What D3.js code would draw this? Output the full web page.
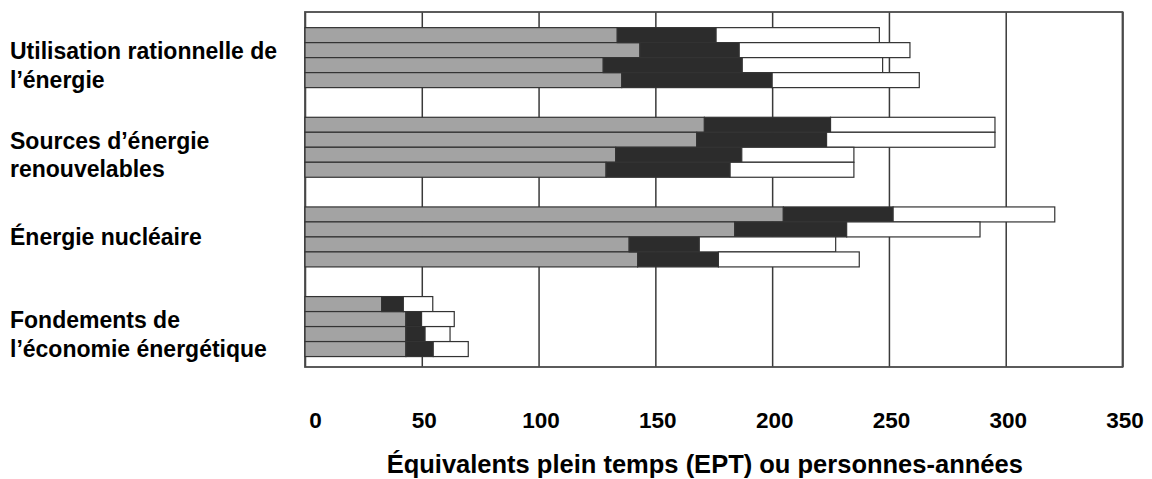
<!DOCTYPE html>
<html>
<head>
<meta charset="utf-8">
<script src="https://cdn.jsdelivr.net/npm/d3@7"></script>
<style>
  html, body { margin: 0; padding: 0; background: #fff; }
  svg { display: block; }
</style>
</head>
<body>
<svg id="chart" width="1152" height="479"></svg>
<script>
// ---- Data ----
const categories = [
  "Utilisation rationnelle de l’énergie",
  "Sources d’énergie renouvelables",
  "Énergie nucléaire",
  "Fondements de l’économie énergétique"
];
const categoryLines = [
  ["Utilisation rationnelle de", "l’énergie"],
  ["Sources d’énergie", "renouvelables"],
  ["Énergie nucléaire"],
  ["Fondements de", "l’économie énergétique"]
];
const subBars = ["1", "2", "3", "4"];
const seriesKeys = ["gray", "black", "white"];
// segment lengths (EPT), one row per category, one entry per sub-bar
const grayValues = [
  [133.7, 143.4, 127.7, 135.6],
  [171.0, 167.7, 133.0, 128.9],
  [204.8, 184.0, 138.8, 142.4],
  [32.8, 43.2, 43.2, 43.2]
];
const blackValues = [
  [42.3, 42.5, 59.5, 64.4],
  [54.0, 55.6, 54.0, 53.1],
  [47.0, 47.9, 30.0, 34.6],
  [9.3, 6.7, 8.2, 11.7]
];
const whiteValues = [
  [69.9, 73.1, 60.1, 63.0],
  [70.4, 72.1, 48.0, 53.0],
  [69.2, 57.1, 58.4, 60.3],
  [12.6, 14.0, 10.7, 15.0]
];
const xTicks = [0, 50, 100, 150, 200, 250, 300, 350];
const xTitle = "Équivalents plein temps (EPT) ou personnes-années";

// ---- Layout ----
const svg = d3.select("#chart");
const plot = { left: 305, right: 1122.5, top: 12, bottom: 367 };
const fillColors = { gray: "#a3a3a3", black: "#2c2c2c", white: "#ffffff" };
const fontFamily = "'Liberation Sans', Arial, Helvetica, sans-serif";

const x = d3.scaleLinear().domain([0, 350]).range([plot.left, plot.right]);
const y = d3.scaleBand().domain(categories).range([12.8, 371.4])
  .paddingInner(0.331).paddingOuter(0.1655);
const ySub = d3.scaleBand().domain(subBars).range([0, y.bandwidth()]).padding(0);

// rows of stacked data
const rows = [];
categories.forEach((c, ci) => {
  subBars.forEach((s, si) => {
    rows.push({ cat: c, sub: s, gray: grayValues[ci][si], black: blackValues[ci][si], white: whiteValues[ci][si] });
  });
});
const stacked = d3.stack().keys(seriesKeys)(rows);

// gridlines
svg.append("g")
  .attr("transform", `translate(0,${plot.bottom})`)
  .call(d3.axisBottom(x).tickValues(xTicks).tickSize(-(plot.bottom - plot.top)).tickFormat(""))
  .call(g => g.select(".domain").remove())
  .call(g => g.selectAll("line").attr("stroke", "#3a3a3a").attr("stroke-width", 1.5));

// frame
svg.append("rect")
  .attr("x", plot.left).attr("y", plot.top)
  .attr("width", plot.right - plot.left).attr("height", plot.bottom - plot.top)
  .attr("fill", "none").attr("stroke", "#4a4a4a").attr("stroke-width", 1.8);

// bars
const layer = svg.append("g").selectAll("g").data(stacked).join("g")
  .attr("fill", d => fillColors[d.key]);
layer.selectAll("rect").data(d => d).join("rect")
  .attr("x", d => x(d[0]))
  .attr("width", d => x(d[1]) - x(d[0]))
  .attr("y", d => y(d.data.cat) + ySub(d.data.sub))
  .attr("height", ySub.bandwidth())
  .attr("stroke", "#333")
  .attr("stroke-width", 1.2);

// category labels
const labelG = svg.append("g").attr("font-family", fontFamily)
  .attr("font-weight", "bold").attr("font-size", 23).attr("fill", "#000");
categories.forEach((c, ci) => {
  const lines = categoryLines[ci];
  const center = y(c) + y.bandwidth() / 2;
  const first = lines.length === 1 ? center + 8 : center + 1.5;
  const t = labelG.append("text").attr("x", 10).attr("y", first);
  lines.forEach((ln, li) => {
    t.append("tspan").attr("x", 10).attr("dy", li === 0 ? 0 : 28.5).text(ln);
  });
});

// x tick labels
const xAxis = svg.append("g")
  .attr("transform", `translate(0,${plot.bottom})`)
  .call(d3.axisBottom(x).tickValues(xTicks).tickSize(0).tickPadding(0).tickFormat(d3.format("d")));
xAxis.select(".domain").remove();
xAxis.selectAll("text")
  .attr("y", 61).attr("dy", 0)
  .attr("dx", d => d === 0 ? 10 : 2)
  .attr("font-family", fontFamily)
  .attr("font-weight", "bold").attr("font-size", 22.5).attr("fill", "#000");

// x title
svg.append("text")
  .attr("x", (plot.left + plot.right) / 2 - 9).attr("y", 473)
  .attr("text-anchor", "middle")
  .attr("font-family", fontFamily)
  .attr("font-weight", "bold").attr("font-size", 25.5).attr("fill", "#000")
  .text(xTitle);
</script>
</body>
</html>
